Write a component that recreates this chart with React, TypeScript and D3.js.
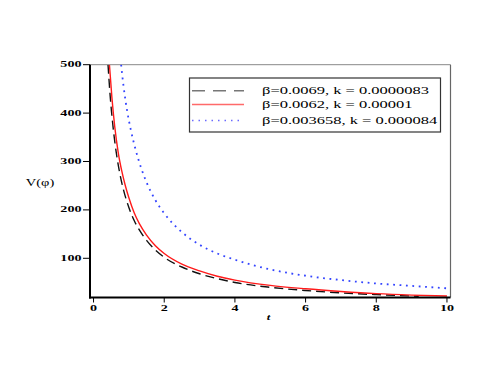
import React, { useEffect, useRef } from "react";
import * as d3 from "d3";

// values
const tBlack = [0.41, 0.47, 0.55, 0.65, 0.75, 0.85, 1.0, 1.15, 1.3, 1.5, 1.75, 2, 2.5, 3, 3.5, 4, 5, 6, 7, 8, 9.2];
const vBlack = [500, 436, 373, 315, 273, 241, 205, 178, 158, 137, 117, 102, 82, 68, 58, 50, 40, 33.5, 28.5, 25, 21.5];

const tRed = [0.45, 0.52, 0.6, 0.7, 0.8, 0.9, 1.0, 1.15, 1.3, 1.5, 1.75, 2, 2.5, 3, 3.5, 4, 5, 6, 7, 8, 9, 10];
const vRed = [500, 432, 372, 318, 280, 250, 225, 194, 171, 148, 126, 110, 88, 74, 63, 55, 44, 37, 31.5, 27, 24, 22];

const tBlue = [0.78, 0.85, 0.95, 1.05, 1.2, 1.35, 1.5, 1.75, 2, 2.5, 3, 3.5, 4, 4.5, 5, 6, 7, 8, 9, 10];
const vBlue = [500, 455, 405, 367, 322, 286, 257, 220, 193, 154, 128, 110, 97, 86, 77, 64, 55, 48, 43, 38];

const legendLabels = [
  "β=0.0069, k = 0.0000083",
  "β=0.0062, k = 0.00001",
  "β=0.003658, k = 0.000084",
];
const xTicks = [0, 2, 4, 6, 8, 10];
const yTicks = [100, 200, 300, 400, 500];

export default function App() {
  const svgRef = useRef<SVGSVGElement>(null);

  useEffect(() => {
    const w = 491;
    const h = 382;
    const svg = d3.select(svgRef.current).attr("width", w).attr("height", h);
    svg.selectAll("*").remove();

    const left = 90, right = 450.5, top = 64.7, bottom = 297.5;
    const x = d3.scaleLinear().domain([-0.1, 10.1]).range([left, right]);
    const y = d3.scaleLinear().domain([19, 500]).range([bottom, top]);

    const font = "'Liberation Serif', 'DejaVu Serif', serif";
    // the picture's text is stretched sideways
    const wideText = (g: any, tx: number, ty: number, s: string, size: number, anchor: string, sx: number, weight = "normal", italic = false) => {
      g.append("text")
        .attr("transform", `translate(${tx},${ty}) scale(${sx},1)`)
        .attr("text-anchor", anchor)
        .attr("dominant-baseline", "central")
        .style("font-family", font)
        .style("font-size", size + "px")
        .style("font-weight", weight)
        .style("font-style", italic ? "italic" : "normal")
        .attr("fill", "black")
        .text(s);
    };

    svg.append("defs").append("clipPath").attr("id", "plotclip")
      .append("rect").attr("x", left).attr("y", top).attr("width", right - left).attr("height", bottom - top);

    // frame
    svg.append("line").attr("x1", left).attr("x2", right).attr("y1", top).attr("y2", top)
      .attr("stroke", "#888").attr("stroke-width", 1);
    svg.append("line").attr("x1", right).attr("x2", right).attr("y1", top).attr("y2", bottom)
      .attr("stroke", "#666").attr("stroke-width", 1.2);

    const line = d3.line<[number, number]>()
      .x(d => x(d[0]))
      .y(d => y(d[1]))
      .curve(d3.curveMonotoneX);

    const series = [
      { t: tBlack, v: vBlack, color: "#111", dash: "9,5", width: 1.4, legendColor: "#777" },
      { t: tRed, v: vRed, color: "#ff1a1a", dash: null, width: 1.4, legendColor: "#ff6a6a" },
      { t: tBlue, v: vBlue, color: "#3344ff", dash: "1.8,4.6", width: 1.8, legendColor: "#6a6aff" },
    ];

    const plot = svg.append("g").attr("clip-path", "url(#plotclip)");
    series.forEach(s => {
      plot.append("path")
        .attr("d", line(s.t.map((t, i) => [t, s.v[i]] as [number, number])))
        .attr("fill", "none")
        .attr("stroke", s.color)
        .attr("stroke-width", s.width)
        .attr("stroke-dasharray", s.dash);
    });

    // axes
    svg.append("line").attr("x1", left).attr("x2", left).attr("y1", top).attr("y2", bottom + 1)
      .attr("stroke", "black").attr("stroke-width", 2);
    svg.append("line").attr("x1", left - 1).attr("x2", right).attr("y1", bottom).attr("y2", bottom)
      .attr("stroke", "black").attr("stroke-width", 2);

    const axes = svg.append("g");
    yTicks.forEach(v => {
      axes.append("line").attr("x1", left - 7).attr("x2", left).attr("y1", y(v)).attr("y2", y(v))
        .attr("stroke", "black").attr("stroke-width", 1);
      wideText(axes, left - 8.5, y(v), String(v), 8.3, "end", 1.7, "bold");
    });
    xTicks.forEach(t => {
      axes.append("line").attr("x1", x(t)).attr("x2", x(t)).attr("y1", bottom).attr("y2", bottom + 5)
        .attr("stroke", "black").attr("stroke-width", 1);
      wideText(axes, x(t), bottom + 11, String(t), 8.3, "middle", 1.7, "bold");
    });

    wideText(axes, 40, 183, "V(φ)", 10, "middle", 1.45);
    wideText(axes, 268.5, 317, "t", 9, "middle", 1.4, "bold", true);

    // legend
    const lg = svg.append("g");
    lg.append("rect").attr("x", 189.5).attr("y", 78).attr("width", 251).attr("height", 54)
      .attr("fill", "white").attr("stroke", "#333").attr("stroke-width", 1.2);
    const rows = [90.7, 104.5, 120.5];
    series.forEach((s, i) => {
      lg.append("line").attr("x1", 192).attr("x2", 244).attr("y1", rows[i]).attr("y2", rows[i])
        .attr("stroke", s.legendColor)
        .attr("stroke-width", 1.6)
        .attr("stroke-dasharray", i === 0 ? "13,8" : i === 2 ? "1.5,5" : null);
      wideText(lg, 262, rows[i], legendLabels[i], 10, "start", 1.65);
    });
  }, []);

  return (
    <div style={{ position: "absolute", left: 0, top: 0 }}>
      <svg ref={svgRef} style={{ display: "block", background: "white" }}></svg>
    </div>
  );
}
